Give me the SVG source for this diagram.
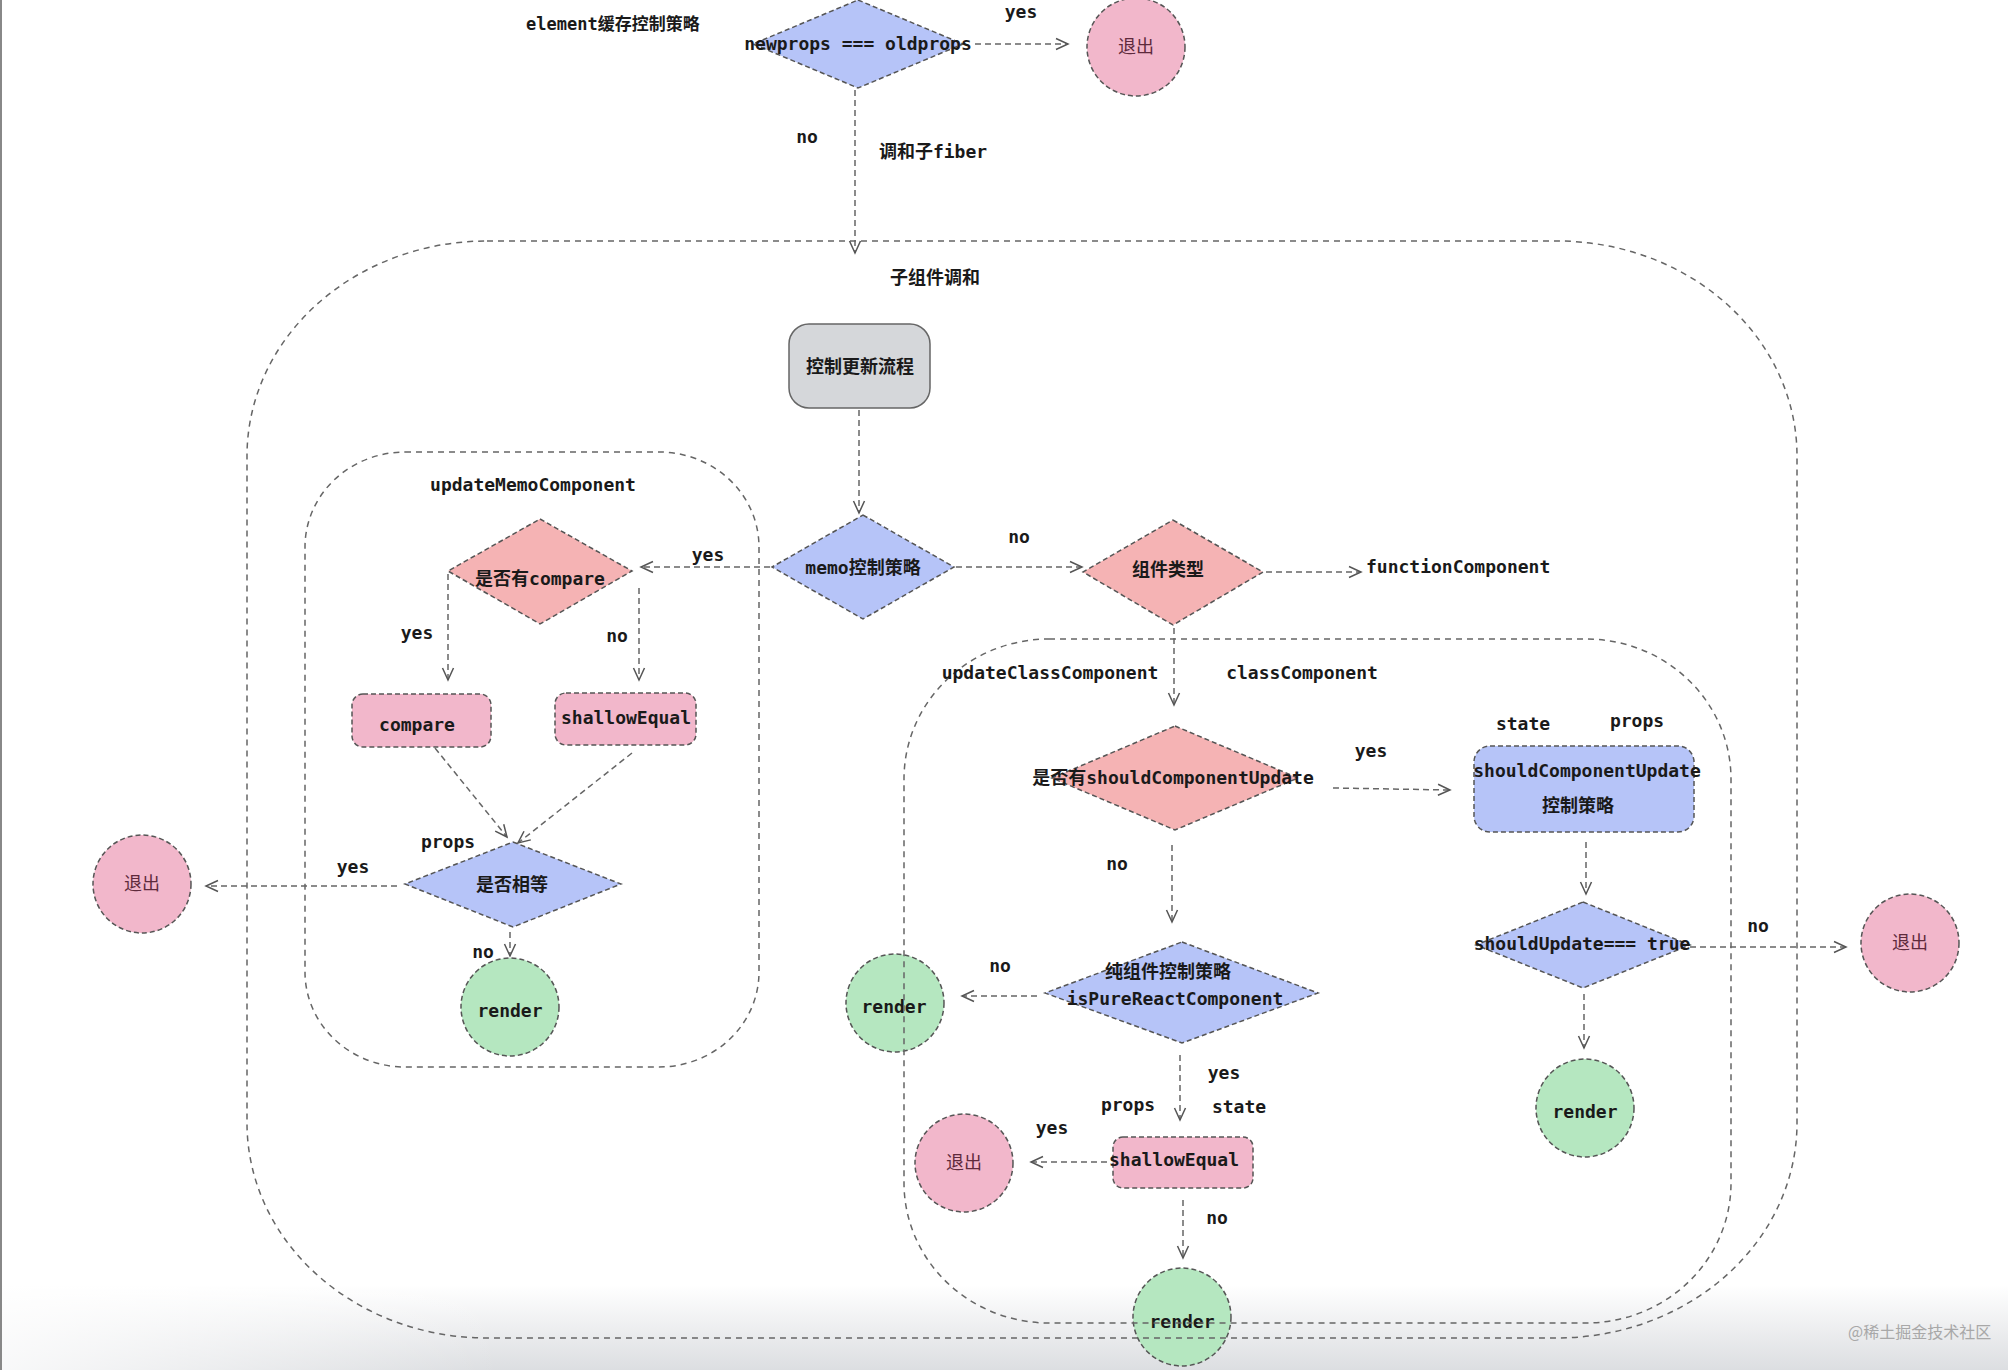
<svg xmlns="http://www.w3.org/2000/svg" width="2008" height="1370" viewBox="0 0 2008 1370">
<defs>
<marker id="arr" markerUnits="userSpaceOnUse" markerWidth="16" markerHeight="14" refX="13" refY="7" orient="auto">
<path d="M1,1.5 L13,7 L1,12.5" fill="none" stroke="#555" stroke-width="1.5"/>
</marker>
<linearGradient id="shade" x1="0" y1="0" x2="0" y2="1">
<stop offset="0" stop-color="#dcdee1" stop-opacity="0"/>
<stop offset="1" stop-color="#dcdee1" stop-opacity="1"/>
</linearGradient>
<linearGradient id="fadeL" x1="0" y1="0" x2="1" y2="0">
<stop offset="0" stop-color="#fff" stop-opacity="0.8"/>
<stop offset="0.25" stop-color="#fff" stop-opacity="0"/>
</linearGradient>
</defs>
<style>
text{font-family:"DejaVu Sans Mono","Noto Sans CJK SC",monospace;font-size:18px;font-weight:bold;fill:#1a1a1a;text-anchor:middle}
.l{text-anchor:start}
.blue{fill:#b6c4f8;stroke:#555;stroke-width:1.5;stroke-dasharray:5 3}
.red{fill:#f5b3b4;stroke:#555;stroke-width:1.5;stroke-dasharray:5 3}
.pink{fill:#f2b7cb;stroke:#555;stroke-width:1.5;stroke-dasharray:5 3}
.green{fill:#b5e7c0;stroke:#555;stroke-width:1.5;stroke-dasharray:5 3}
.gray{fill:#d5d7da;stroke:#666;stroke-width:1.5}
.exit{fill:#5e2a3c;font-weight:normal}
.conn line{stroke:#666;stroke-width:1.5;stroke-dasharray:6 4;marker-end:url(#arr)}
.box{fill:none;stroke:#666;stroke-width:1.5;stroke-dasharray:6 5}
.wm{fill:#a8a8a8;font-family:"Noto Sans CJK SC",sans-serif;font-size:16px;font-weight:normal}
</style>
<rect x="0" y="0" width="2008" height="1370" fill="#ffffff"/>
<rect x="0" y="1285" width="2008" height="85" fill="url(#shade)"/>
<rect x="0" y="1285" width="2008" height="85" fill="url(#fadeL)"/>
<line x1="1" y1="0" x2="1" y2="1370" stroke="#888" stroke-width="2"/>

<g id="label-element"><text class="l" x="526" y="30" style="font-size:17px">element缓存控制策略</text></g>

<g id="n-newprops"><polygon class="blue" points="858,0 963,44 858,88 753,44"/><text x="858" y="50">newprops === oldprops</text></g>
<g id="n-exit-top"><circle class="pink" cx="1136" cy="47" r="49"/><text class="exit" x="1136" y="53">退出</text></g>

<g id="n-update"><rect class="gray" x="789" y="324" width="141" height="84" rx="20"/><text x="860" y="373">控制更新流程</text></g>
<g id="n-memo"><polygon class="blue" points="863,515 954,567 863,619 772,567"/><text x="863" y="574">memo控制策略</text></g>
<g id="n-type"><polygon class="red" points="1173,520 1263,572 1173,625 1083,572"/><text x="1168" y="576">组件类型</text></g>

<g id="n-hascompare"><polygon class="red" points="540,519 632,571 540,624 448,571"/><text x="540" y="585">是否有compare</text></g>
<g id="n-compare"><rect class="pink" x="352" y="694" width="139" height="53" rx="11"/><text x="417" y="731">compare</text></g>
<g id="n-shallow1"><rect class="pink" x="555" y="693" width="141" height="52" rx="11"/><text x="626" y="724">shallowEqual</text></g>
<g id="n-equal"><polygon class="blue" points="513,842 621,884 513,927 405,884"/><text x="512" y="891">是否相等</text></g>
<g id="n-exit-left"><circle class="pink" cx="142" cy="884" r="49"/><text class="exit" x="142" y="890">退出</text></g>
<g id="n-render1"><circle class="green" cx="510" cy="1007" r="49"/><text x="510" y="1017">render</text></g>

<g id="n-hasscu"><polygon class="red" points="1175,726 1298,778 1175,830 1052,778"/><text x="1173" y="784">是否有shouldComponentUpdate</text></g>
<g id="n-scu"><rect class="blue" x="1474" y="746" width="220" height="86" rx="16"/><text x="1587" y="777">shouldComponentUpdate</text><text x="1578" y="812">控制策略</text></g>
<g id="n-shouldupdate"><polygon class="blue" points="1583,902 1690,945 1583,988 1476,945"/><text x="1582" y="950">shouldUpdate=== true</text></g>
<g id="n-exit-right"><circle class="pink" cx="1910" cy="943" r="49"/><text class="exit" x="1910" y="949">退出</text></g>
<g id="n-render3"><circle class="green" cx="1585" cy="1108" r="49"/><text x="1585" y="1118">render</text></g>

<g id="n-pure"><polygon class="blue" points="1182,942 1318,993 1182,1043 1045,993"/><text x="1168" y="978">纯组件控制策略</text><text x="1175" y="1005">isPureReactComponent</text></g>
<g id="n-render2"><circle class="green" cx="895" cy="1003" r="49"/><text x="894" y="1013">render</text></g>
<g id="n-shallow2"><rect class="pink" x="1113" y="1137" width="140" height="51" rx="10"/><text x="1174" y="1166">shallowEqual</text></g>
<g id="n-exit-mid"><circle class="pink" cx="964" cy="1163" r="49"/><text class="exit" x="964" y="1169">退出</text></g>
<g id="n-render4"><circle class="green" cx="1182" cy="1317" r="49"/><text x="1182" y="1328">render</text></g>

<g id="containers">
<rect class="box" x="247" y="241" width="1550" height="1097" rx="240" ry="215"/>
<rect class="box" x="305" y="452" width="454" height="615" rx="100" ry="95"/>
<rect class="box" x="904" y="639" width="827" height="684" rx="145" ry="140"/>
</g>

<g class="conn" id="connectors">
<line x1="975" y1="44" x2="1068" y2="44"/>
<line x1="855" y1="90" x2="855" y2="253"/>
<line x1="859" y1="410" x2="859" y2="513"/>
<line x1="956" y1="567" x2="1082" y2="567"/>
<line x1="770" y1="567" x2="641" y2="567"/>
<line x1="1266" y1="572" x2="1361" y2="572"/>
<line x1="448" y1="574" x2="448" y2="680"/>
<line x1="639" y1="588" x2="639" y2="680"/>
<line x1="435" y1="748" x2="507" y2="837"/>
<line x1="632" y1="753" x2="518" y2="843"/>
<line x1="397" y1="886" x2="206" y2="886"/>
<line x1="510" y1="932" x2="510" y2="956"/>
<line x1="1174" y1="628" x2="1174" y2="705"/>
<line x1="1333" y1="788" x2="1450" y2="790"/>
<line x1="1586" y1="842" x2="1586" y2="894"/>
<line x1="1690" y1="947" x2="1846" y2="947"/>
<line x1="1584" y1="994" x2="1584" y2="1048"/>
<line x1="1172" y1="845" x2="1172" y2="922"/>
<line x1="1037" y1="996" x2="962" y2="996"/>
<line x1="1180" y1="1055" x2="1180" y2="1120"/>
<line x1="1107" y1="1162" x2="1031" y2="1162"/>
<line x1="1183" y1="1200" x2="1183" y2="1258"/>
</g>

<g id="labels">
<text x="1021" y="18">yes</text>
<text x="807" y="143">no</text>
<text x="933" y="158">调和子fiber</text>
<text x="935" y="284">子组件调和</text>
<text x="1019" y="543">no</text>
<text x="708" y="561">yes</text>
<text x="533" y="491">updateMemoComponent</text>
<text x="417" y="639">yes</text>
<text x="617" y="642">no</text>
<text x="448" y="848">props</text>
<text x="353" y="873">yes</text>
<text x="483" y="958">no</text>
<text class="l" x="1366" y="573">functionComponent</text>
<text x="1050" y="679">updateClassComponent</text>
<text x="1302" y="679">classComponent</text>
<text x="1371" y="757">yes</text>
<text x="1523" y="730">state</text>
<text x="1637" y="727">props</text>
<text x="1758" y="932">no</text>
<text x="1117" y="870">no</text>
<text x="1000" y="972">no</text>
<text x="1224" y="1079">yes</text>
<text x="1128" y="1111">props</text>
<text x="1239" y="1113">state</text>
<text x="1052" y="1134">yes</text>
<text x="1217" y="1224">no</text>
</g>

<text class="wm l" x="1848" y="1338">@稀土掘金技术社区</text>
</svg>
